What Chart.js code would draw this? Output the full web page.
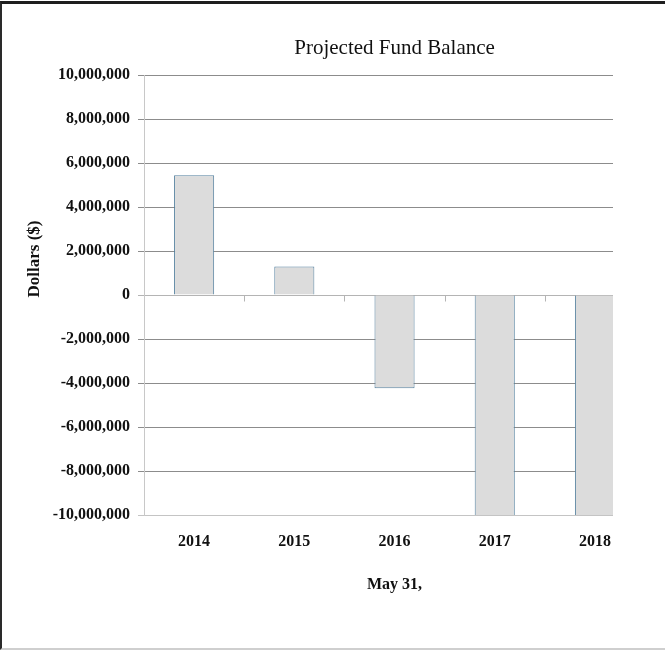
<!DOCTYPE html>
<html>
<head>
<meta charset="utf-8">
<script src="https://cdn.jsdelivr.net/npm/chart.js@4/dist/chart.umd.min.js"></script>
<style>
  body { margin: 0; background: #fff; }
  #wrap { position: relative; width: 665px; height: 650px; }
  #frame {
    position: absolute; left: 0; top: 1px; width: 665px; height: 649px;
    box-sizing: border-box; pointer-events: none;
    border-top: 3px solid #1e1e1e; border-left: 2px solid #2a2a2a; border-bottom: 2px solid #cfcfcf;
  }
  canvas { position: absolute; left: 0; top: 0; }
</style>
</head>
<body>
<div id="wrap">
  <canvas id="myChart" width="665" height="650"></canvas>
  <div id="frame"></div>
</div>
<script>
const chartTitle = 'Projected Fund Balance';
const yTitle = 'Dollars ($)';
const xTitle = 'May 31,';
const years = [2014, 2015, 2016, 2017, 2018];
const balances = [5440000, 1290000, -4240000, -10800000, -12500000];
const yTicks = [-10000000, -8000000, -6000000, -4000000, -2000000, 0, 2000000, 4000000, 6000000, 8000000, 10000000];

const serif = '"Liberation Serif", "Times New Roman", serif';

// titles and the small category ticks on the zero line
const extras = {
    id: 'extras',
    afterDraw(chart) {
        const ctx = chart.ctx;
        const x = chart.scales.x;
        const y = chart.scales.y;
        const mid = x.getPixelForValue(years[2]);
        ctx.save();
        ctx.fillStyle = '#111';
        ctx.textAlign = 'center';
        ctx.textBaseline = 'middle';
        ctx.font = '21px ' + serif;
        ctx.fillText(chartTitle, mid, 48);
        ctx.font = 'bold 16px ' + serif;
        ctx.fillText(xTitle, mid, 585);
        ctx.font = 'bold 17px ' + serif;
        ctx.translate(35, 259);
        ctx.rotate(-Math.PI / 2);
        ctx.fillText(yTitle, 0, 0);
        ctx.restore();

        ctx.save();
        ctx.strokeStyle = '#b4b4b4';
        ctx.lineWidth = 1;
        const y0 = Math.round(y.getPixelForValue(0)) + 0.5;
        for (let i = 0; i < years.length - 1; i++) {
            const px = Math.round(x.getPixelForValue(years[i] + 0.5)) + 0.5;
            ctx.beginPath();
            ctx.moveTo(px, y0);
            ctx.lineTo(px, y0 + 6);
            ctx.stroke();
        }
        ctx.restore();
    }
};

const ctx = document.getElementById('myChart').getContext('2d');
const chart1 = new Chart(ctx, {
    type: 'bar',
    data: {
        datasets: [{
            data: years.map((yr, i) => ({ x: yr, y: balances[i] })),
            backgroundColor: '#dcdcdc',
            borderColor: '#55819f',
            borderWidth: 1,
            categoryPercentage: 1,
            barPercentage: 0.4
        }]
    },
    options: {
        responsive: false,
        animation: false,
        layout: { padding: { top: 75, right: 52, left: 0, bottom: 0 } },
        plugins: {
            legend: { display: false },
            title: { display: false },
            tooltip: { enabled: false }
        },
        scales: {
            x: {
                type: 'linear',
                offset: false,
                min: 2013.5,
                max: 2018.18,
                afterFit: (s) => { s.height = 135; },
                grid: { display: false, drawTicks: false },
                border: { display: false },
                ticks: {
                    stepSize: 1,
                    includeBounds: false,
                    padding: 17,
                    color: '#111',
                    font: { family: serif, size: 16, weight: 'bold' },
                    callback: (v) => String(v)
                }
            },
            y: {
                min: -10000000,
                max: 10000000,
                afterFit: (s) => { s.width = 144; },
                afterBuildTicks: (s) => { s.ticks = yTicks.map(v => ({ value: v })); },
                grid: {
                    color: (c) => c.tick && c.tick.value === 0 ? '#b4b4b4' : (c.tick && c.tick.value === -10000000 ? '#c4c4c4' : '#8c8c8c'),
                    tickLength: 6
                },
                border: { color: '#c8c8c8' },
                ticks: {
                    padding: 8,
                    color: '#111',
                    font: { family: serif, size: 16, weight: 'bold' },
                    callback: (v) => Number(v).toLocaleString('en-US')
                }
            }
        }
    },
    plugins: [extras]
});
</script>
</body>
</html>
